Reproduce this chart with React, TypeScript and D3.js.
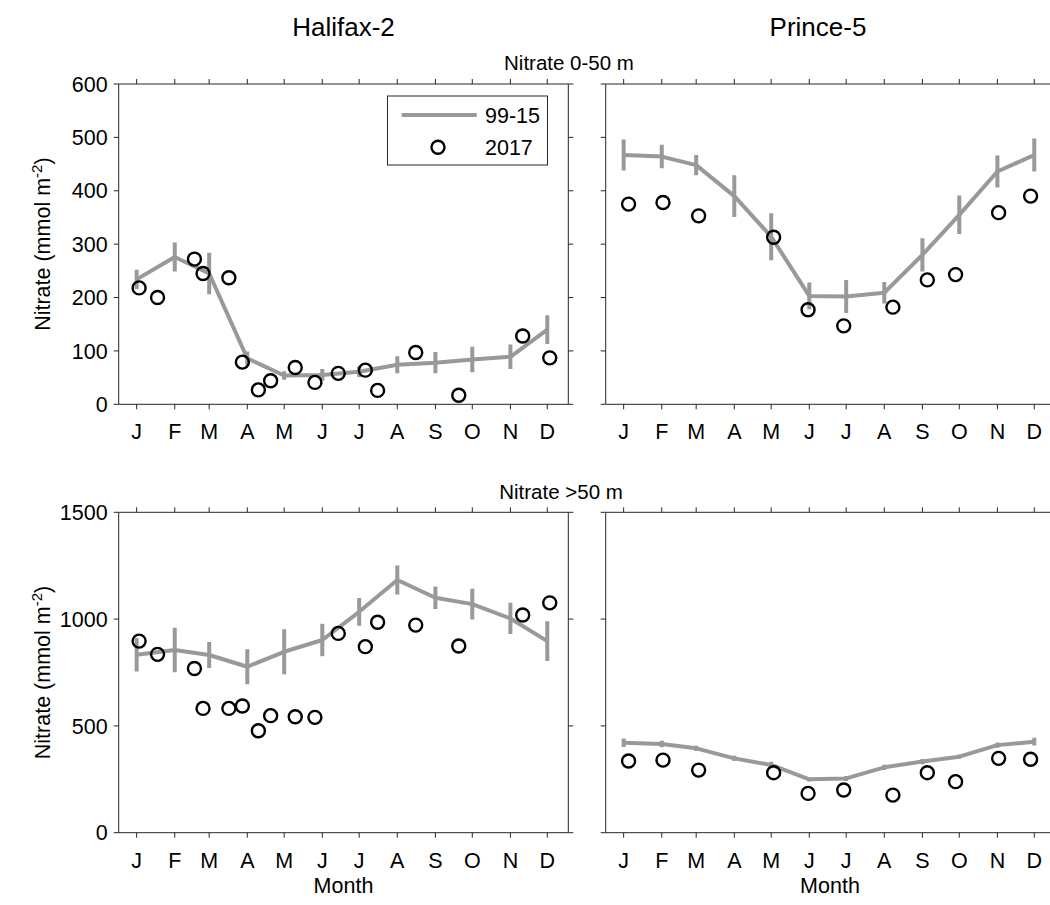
import React from 'react';
import * as d3 from 'd3';

// ---------- DATA ----------
const monthLabels = ['J', 'F', 'M', 'A', 'M', 'J', 'J', 'A', 'S', 'O', 'N', 'D'];
const monthDays = [1, 32, 60, 91, 121, 152, 182, 213, 244, 274, 305, 335];

// Halifax-2, Nitrate 0-50 m
const halifaxTopClim = [234, 276, 245, 86, 54, 55, 61, 74, 78, 84, 89, 140];
const halifaxTopErr = [18, 27, 39, 13, 8, 11, 10, 16, 20, 24, 23, 27];
const halifaxDates = [3, 18, 48, 55, 76, 87, 100, 110, 130, 146, 165, 187, 197, 228, 263, 315, 337];
const halifaxTopObs = [218, 200, 272, 245, 237, 79, 27, 44, 69, 41, 58, 64, 26, 97, 17, 128, 87];

// Prince-5, Nitrate 0-50 m
const princeTopClim = [467, 464, 448, 390, 314, 203, 202, 209, 280, 355, 436, 467];
const princeTopErr = [29, 22, 19, 39, 44, 25, 31, 20, 31, 36, 30, 31];
const princeDates = [5, 33, 62, 123, 151, 180, 220, 248, 271, 306, 332];
const princeTopObs = [375, 378, 353, 313, 177, 147, 182, 233, 243, 359, 390];

// Halifax-2, Nitrate >50 m
const halifaxBotClim = [833, 855, 832, 777, 847, 902, 1034, 1183, 1100, 1070, 1003, 897];
const halifaxBotErr = [78, 104, 61, 82, 105, 76, 65, 68, 53, 72, 73, 93];
const halifaxBotObs = [897, 835, 769, 582, 582, 593, 477, 548, 543, 540, 933, 871, 985, 972, 874, 1019, 1076];

// Prince-5, Nitrate >50 m
const princeBotClim = [421, 415, 395, 348, 317, 250, 254, 306, 333, 356, 410, 426];
const princeBotErr = [20, 15, 12, 12, 15, 10, 12, 12, 12, 10, 12, 18];
const princeBotObs = [336, 340, 293, 281, 184, 200, 176, 281, 239, 348, 344];

const topYTicks = [0, 100, 200, 300, 400, 500, 600];
const botYTicks = [0, 500, 1000, 1500];

const stationTitles = ['Halifax-2', 'Prince-5'];
const rowTitles = ['Nitrate 0-50 m', 'Nitrate >50 m'];
const legendLabels = ['99-15', '2017'];

// ---------- STYLE / LAYOUT ----------
const FONT = '"Liberation Sans", Arial, Helvetica, sans-serif';
const FS = 21.5;
const GRAY = '#999999';
const AX = '#262626';
const X_DOMAIN: [number, number] = [-13.6, 352.1];
const COLS = [
  { x0: 118.7, x1: 568.3 },
  { x0: 605.7, x1: 1055.3 },
];
const ROWS = [
  { y0: 84, y1: 404.3 },
  { y0: 512.3, y1: 832.7 },
];
const TICK = 5;
const R = 6.5;

type PanelProps = {
  x0: number; x1: number; y0: number; y1: number;
  yMax: number; yTicks: number[]; yLabels: boolean;
  clim: number[]; err: number[]; dates: number[]; obs: number[];
  legend?: boolean;
};

function Panel(p: PanelProps) {
  const x = d3.scaleLinear().domain(X_DOMAIN).range([p.x0, p.x1]);
  const y = d3.scaleLinear().domain([0, p.yMax]).range([p.y1, p.y0]);
  const line = d3
    .line<number>()
    .x((_, i) => x(monthDays[i]))
    .y((d) => y(d));
  const clipId = `clip-${Math.round(p.x0)}-${Math.round(p.y0)}`;
  return (
    <g>
      <defs>
        <clipPath id={clipId}>
          <rect x={p.x0} y={p.y0 - 2} width={p.x1 - p.x0} height={p.y1 - p.y0 + 4} />
        </clipPath>
      </defs>
      <g clipPath={`url(#${clipId})`}>
        <path d={line(p.clim) || ''} fill="none" stroke={GRAY} strokeWidth={4} strokeLinejoin="round" />
        {p.clim.map((v, i) => (
          <line
            key={'e' + i}
            x1={x(monthDays[i])}
            x2={x(monthDays[i])}
            y1={y(v - p.err[i])}
            y2={y(v + p.err[i])}
            stroke={GRAY}
            strokeWidth={4}
          />
        ))}
        {p.obs.map((v, i) => (
          <circle key={'o' + i} cx={x(p.dates[i])} cy={y(v)} r={R} fill="none" stroke="#000" strokeWidth={2.4} />
        ))}
      </g>
      {/* box */}
      <line x1={p.x0} x2={p.x1} y1={p.y1} y2={p.y1} stroke={AX} strokeWidth={1} />
      <line x1={p.x0} x2={p.x1} y1={p.y0} y2={p.y0} stroke={AX} strokeWidth={1} />
      <line x1={p.x0} x2={p.x0} y1={p.y0} y2={p.y1} stroke={AX} strokeWidth={1} />
      <line x1={p.x1} x2={p.x1} y1={p.y0} y2={p.y1} stroke={AX} strokeWidth={1} />
      {/* x ticks */}
      {monthDays.map((d, i) => (
        <g key={'xt' + i}>
          <line x1={x(d)} x2={x(d)} y1={p.y1} y2={p.y1 + TICK} stroke={AX} strokeWidth={1} />
          <line x1={x(d)} x2={x(d)} y1={p.y0} y2={p.y0 - TICK} stroke={AX} strokeWidth={1} />
          <text x={x(d)} y={p.y1 + 35} textAnchor="middle" fontSize={FS} fontFamily={FONT} fill="#000">
            {monthLabels[i]}
          </text>
        </g>
      ))}
      {/* y ticks */}
      {p.yTicks.map((t) => (
        <g key={'yt' + t}>
          <line x1={p.x0} x2={p.x0 - TICK} y1={y(t)} y2={y(t)} stroke={AX} strokeWidth={1} />
          <line x1={p.x1} x2={p.x1 + TICK} y1={y(t)} y2={y(t)} stroke={AX} strokeWidth={1} />
          {p.yLabels && (
            <text x={p.x0 - 11} y={y(t) + 7.7} textAnchor="end" fontSize={FS} fontFamily={FONT} fill="#000">
              {t}
            </text>
          )}
        </g>
      ))}
      {p.legend && (
        <g>
          <rect x={387.5} y={96} width={160} height={69} fill="#fff" stroke={AX} strokeWidth={1} />
          <line x1={401.7} x2={476.7} y1={115} y2={115} stroke={GRAY} strokeWidth={4} />
          <text x={485} y={123} fontSize={FS} fontFamily={FONT} fill="#000">{legendLabels[0]}</text>
          <circle cx={438} cy={147.3} r={R} fill="none" stroke="#000" strokeWidth={2.4} />
          <text x={485} y={155} fontSize={FS} fontFamily={FONT} fill="#000">{legendLabels[1]}</text>
        </g>
      )}
    </g>
  );
}

function YLabel({ cy }: { cy: number }) {
  return (
    <text
      transform={`translate(50, ${cy}) rotate(-90)`}
      textAnchor="middle"
      fontSize={FS}
      fontFamily={FONT}
      fill="#000"
    >
      Nitrate (mmol m<tspan dy={-8} fontSize={15}>-2</tspan>
      <tspan dy={8}>)</tspan>
    </text>
  );
}

export default function App() {
  const cxL = (COLS[0].x0 + COLS[0].x1) / 2;
  const cxR = 818;
  const cxRMonth = 830;
  return (
    <svg
      width={1050}
      height={905}
      viewBox="0 0 1050 905"
      style={{ position: 'absolute', left: 0, top: 0, background: '#fff' }}
    >
      <rect x={0} y={0} width={1050} height={905} fill="#fff" />
      <text x={cxL} y={36} textAnchor="middle" fontSize={26} fontFamily={FONT}>{stationTitles[0]}</text>
      <text x={cxR} y={36} textAnchor="middle" fontSize={26} fontFamily={FONT}>{stationTitles[1]}</text>
      <text x={569} y={70} textAnchor="middle" fontSize={20.5} fontFamily={FONT}>{rowTitles[0]}</text>
      <text x={561} y={499} textAnchor="middle" fontSize={20.5} fontFamily={FONT}>{rowTitles[1]}</text>

      <Panel {...COLS[0]} {...ROWS[0]} yMax={600} yTicks={topYTicks} yLabels clim={halifaxTopClim} err={halifaxTopErr} dates={halifaxDates} obs={halifaxTopObs} legend />
      <Panel {...COLS[1]} {...ROWS[0]} yMax={600} yTicks={topYTicks} yLabels={false} clim={princeTopClim} err={princeTopErr} dates={princeDates} obs={princeTopObs} />
      <Panel {...COLS[0]} {...ROWS[1]} yMax={1500} yTicks={botYTicks} yLabels clim={halifaxBotClim} err={halifaxBotErr} dates={halifaxDates} obs={halifaxBotObs} />
      <Panel {...COLS[1]} {...ROWS[1]} yMax={1500} yTicks={botYTicks} yLabels={false} clim={princeBotClim} err={princeBotErr} dates={princeDates} obs={princeBotObs} />

      <YLabel cy={(ROWS[0].y0 + ROWS[0].y1) / 2} />
      <YLabel cy={(ROWS[1].y0 + ROWS[1].y1) / 2} />

      <text x={cxL} y={893} textAnchor="middle" fontSize={FS} fontFamily={FONT}>Month</text>
      <text x={cxRMonth} y={893} textAnchor="middle" fontSize={FS} fontFamily={FONT}>Month</text>
    </svg>
  );
}
